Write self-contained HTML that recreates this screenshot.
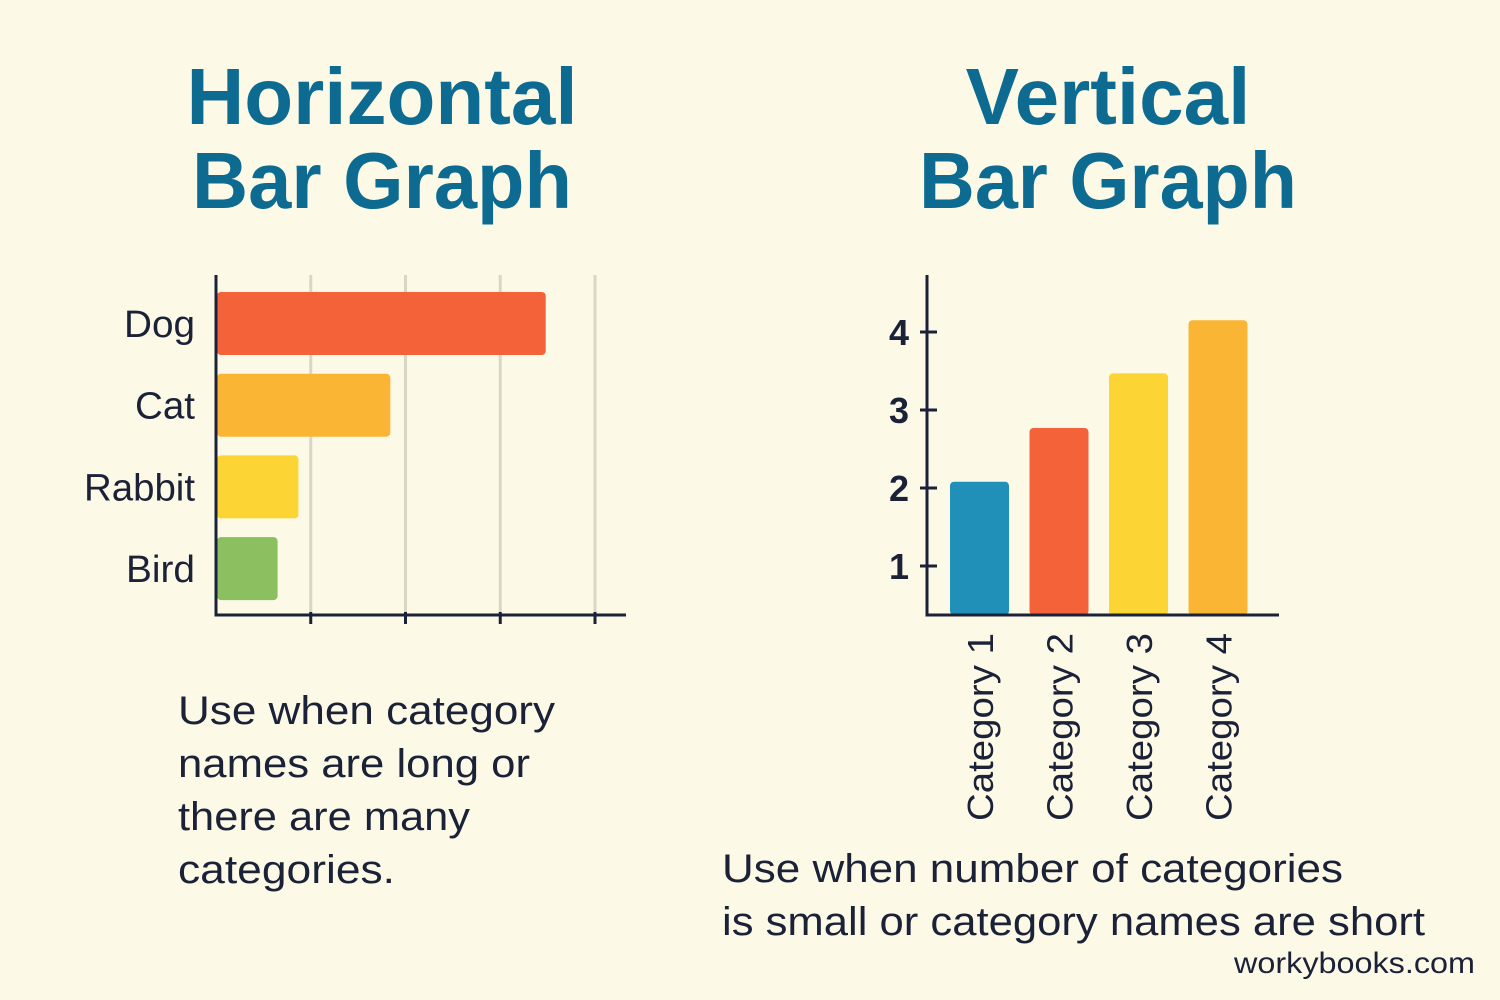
<!DOCTYPE html>
<html><head><meta charset="utf-8">
<style>
html,body{margin:0;padding:0;background:#fdf9e7;}
svg{display:block;}
text{font-family:"Liberation Sans","DejaVu Sans",sans-serif;}
</style></head>
<body>
<svg width="1500" height="1000" viewBox="0 0 1500 1000" xmlns="http://www.w3.org/2000/svg">
<rect width="1500" height="1000" fill="#fdf9e7"/>
<g fill="#0d6b91" font-weight="bold" font-size="80" text-anchor="middle">
<text x="382" y="124">Horizontal</text>
<text x="382" y="208" textLength="380" lengthAdjust="spacingAndGlyphs">Bar Graph</text>
<text x="1108" y="124">Vertical</text>
<text x="1108" y="208" textLength="378" lengthAdjust="spacingAndGlyphs">Bar Graph</text>
</g>
<g id="hchart"></g>
<g id="vchart"></g>
<g fill="#1b2238" font-size="40" lengthAdjust="spacingAndGlyphs">
<text x="178" y="724" textLength="377" lengthAdjust="spacingAndGlyphs">Use when category</text>
<text x="178" y="777" textLength="352" lengthAdjust="spacingAndGlyphs">names are long or</text>
<text x="178" y="830" textLength="292" lengthAdjust="spacingAndGlyphs">there are many</text>
<text x="178" y="883" textLength="217" lengthAdjust="spacingAndGlyphs">categories.</text>
<text x="722" y="882" textLength="621" lengthAdjust="spacingAndGlyphs">Use when number of categories</text>
<text x="722" y="935" textLength="703" lengthAdjust="spacingAndGlyphs">is small or category names are short</text>
</g>
<text x="1234" y="973" font-size="30" fill="#1b2238" textLength="241" lengthAdjust="spacingAndGlyphs">workybooks.com</text>
</svg>
<script>
const hCategories=["Dog","Cat","Rabbit","Bird"];
const hValues=[3.48,1.84,0.87,0.65];
const hColors=["#f4623a","#fbb535","#fcd535","#8cbf5f"];
const hLabelWidths=[71,60,111,69];
const hGrid=[1,2,3,4];
const vCategories=["Category 1","Category 2","Category 3","Category 4"];
const vValues=[2.08,2.77,3.47,4.15];
const vColors=["#2190b9","#f4623a","#fcd535","#fbb535"];
const vTicks=[1,2,3,4];
const NS="http://www.w3.org/2000/svg";
function mk(p,tag,a){const e=document.createElementNS(NS,tag);for(const k in a)e.setAttribute(k,a[k]);p.appendChild(e);return e;}
const hg=document.getElementById('hchart');
const hx=v=>216+v*94.75;
const hy=i=>292+i*81.7;
hGrid.forEach(g=>{
 const l=mk(hg,'line',{x1:hx(g),x2:hx(g),y1:275,y2:615,stroke:'#d9d6c8','stroke-width':3});
 
 
 const t=mk(hg,'line',{x1:hx(g),x2:hx(g),y1:612,y2:624,stroke:'#1b2238','stroke-width':3});
 
 
});
hCategories.forEach((c,i)=>{
 const r=mk(hg,'rect',{x:217,y:hy(i),width:hx(hValues[i])-217,height:63,rx:4,fill:hColors[i]});
 
 
 const t=mk(hg,'text',{x:195-hLabelWidths[i],y:hy(i)+45,'font-size':38,fill:'#1b2238',textLength:hLabelWidths[i],lengthAdjust:'spacingAndGlyphs'});
 t.textContent=c;
 
 
});
let a=mk(hg,'path',{d:'M216 275 V615 H626',fill:'none',stroke:'#1b2238','stroke-width':3});


const vg=document.getElementById('vchart');
const vy=v=>644-78*v;
const vx=i=>950+i*79.5;
vTicks.forEach(t=>{
 const l=mk(vg,'line',{x1:920,x2:937,y1:vy(t),y2:vy(t),stroke:'#1b2238','stroke-width':3});
 
 
 const tx=mk(vg,'text',{x:909,y:vy(t)+13,'text-anchor':'end','font-size':36,'font-weight':'bold',fill:'#1b2238'});
 tx.textContent=t;
 
 
});
vCategories.forEach((c,i)=>{
 const r=mk(vg,'rect',{x:vx(i),y:vy(vValues[i]),width:59,height:615-vy(vValues[i]),rx:4,fill:vColors[i]});
 
 
 const cx=vx(i)+43;
 const t=mk(vg,'text',{x:cx-188,y:633,transform:'rotate(-90 '+cx+' 633) translate(-188 0)'.replace(' translate(-188 0)',''),'font-size':36,fill:'#1b2238',textLength:188,lengthAdjust:'spacingAndGlyphs'});
 t.setAttribute('x',cx);
 t.setAttribute('text-anchor','end');
 t.textContent=c;
 
 
});
a=mk(vg,'path',{d:'M927 275 V615 H1279',fill:'none',stroke:'#1b2238','stroke-width':3});


</script>
</body></html>
